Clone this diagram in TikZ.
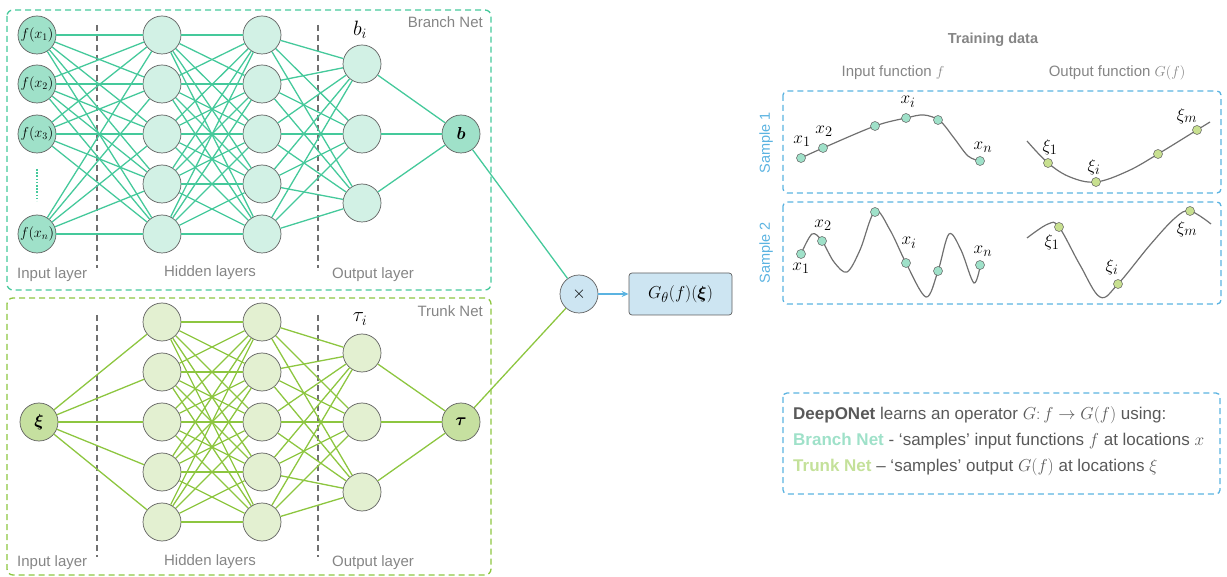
\documentclass[tikz,border=0pt]{standalone}
\usepackage{fontspec}
\setmainfont{Liberation Sans}
\usepackage{bm}
\usetikzlibrary{arrows.meta}

\definecolor{brline}{HTML}{45C99B}
\definecolor{brin}{HTML}{9FE1C9}
\definecolor{brhid}{HTML}{D2F1E5}
\definecolor{trline}{HTML}{8DC640}
\definecolor{trin}{HTML}{C6E0A0}
\definecolor{trhid}{HTML}{E3F0D1}
\definecolor{nodeedge}{HTML}{5F5F5F}
\definecolor{labgray}{HTML}{858585}
\definecolor{textgray}{HTML}{595959}
\definecolor{skyb}{HTML}{5BB3E1}
\definecolor{opfill}{HTML}{CDE5F2}
\definecolor{curvegray}{HTML}{707070}
\definecolor{brtext}{HTML}{9FE1C9}
\definecolor{trtext}{HTML}{C4E19A}
\definecolor{odot}{HTML}{C8E090}

\begin{document}
\begin{tikzpicture}[x=1pt,y=-1pt,
  neuron/.style={circle, draw=nodeedge, line width=0.7pt, minimum size=38pt, inner sep=0pt},
  brinput/.style={neuron, fill=brin},
  brhidden/.style={neuron, fill=brhid},
  trinput/.style={neuron, fill=trin},
  trhidden/.style={neuron, fill=trhid},
  brl/.style={draw=brline, line width=1.3pt},
  trl/.style={draw=trline, line width=1.3pt},
  netbox/.style={dashed, dash pattern=on 6pt off 4pt, line width=1.3pt, rounded corners=6pt},
  layersep/.style={draw=curvegray, line width=1.2pt, dash pattern=on 6pt off 4pt},
  laytext/.style={text=labgray, font=\fontsize{15}{18}\selectfont, inner sep=0pt},
  bigmath/.style={font=\fontsize{20}{22}\selectfont, inner sep=0pt},
  ptlabel/.style={font=\fontsize{19}{21}\selectfont, inner sep=0pt},
  curve/.style={draw=curvegray, line width=1.2pt},
  idot/.style={circle, draw=nodeedge, line width=0.5pt, fill=brin, minimum size=9pt, inner sep=0pt},
  odotst/.style={circle, draw=nodeedge, line width=0.5pt, fill=odot, minimum size=9pt, inner sep=0pt},
  samplebox/.style={draw=skyb, line width=1.3pt, dash pattern=on 6pt off 4pt, rounded corners=4pt},
]
\useasboundingbox (0,0) rectangle (1227,577);

% ---------------- Branch net ----------------
\draw[netbox, draw=brline] (7,10) rectangle (491,290);
\draw[layersep] (97,25) -- (97,268);
\draw[layersep] (318,25) -- (318,268);

\node[brinput, font=\fontsize{14}{16}\selectfont] (bi1) at (37,35) {$f(x_1)$};
\node[brinput, font=\fontsize{14}{16}\selectfont] (bi2) at (37,84) {$f(x_2)$};
\node[brinput, font=\fontsize{14}{16}\selectfont] (bi3) at (37,134) {$f(x_3)$};
\node[brinput, font=\fontsize{14}{16}\selectfont] (bi5) at (37,234) {$f(x_n)$};
\coordinate (dtop) at (37,169);
\coordinate (dbot) at (37,201);
\draw[draw=brline, line width=2.2pt, dash pattern=on 1.6pt off 1.6pt] (dtop) -- (dbot);

\foreach \j/\y in {1/35,2/84,3/134,4/184,5/234}{
  \node[brhidden] (bh\j) at (162,\y) {};
  \node[brhidden] (bk\j) at (262,\y) {};
}
\node[brhidden] (bo1) at (362,64) {};
\node[brhidden] (bo2) at (362,134) {};
\node[brhidden] (bo3) at (362,203) {};
\node[brinput, font=\fontsize{19}{21}\selectfont] (b) at (461,134) {$\bm{b}$};

\foreach \i in {1,2,3,5}{\foreach \j in {1,...,5}{\draw[brl] (bi\i) -- (bh\j);}}
\foreach \i in {1,...,5}{\foreach \j in {1,...,5}{\draw[brl] (bh\i) -- (bk\j);}}
\foreach \i in {1,...,5}{\foreach \j in {1,2,3}{\draw[brl] (bk\i) -- (bo\j);}}
\foreach \j in {1,2,3}{\draw[brl] (bo\j) -- (b);}

\node[bigmath] (bil) at (360,30) {$b_i$};
\node[laytext, anchor=west] (bin) at (17,275) {Input layer};
\node[laytext] (bhl) at (210,273) {Hidden layers};
\node[laytext] (bol) at (373,275) {Output layer};
\node[laytext, anchor=east] (bname) at (483,22) {Branch Net};

% ---------------- Trunk net ----------------
\draw[netbox, draw=trline] (7,298) rectangle (491,575);
\draw[layersep] (97,315) -- (97,557);
\draw[layersep] (318,315) -- (318,557);

\node[trinput, font=\fontsize{19}{21}\selectfont] (xi) at (39,422) {$\bm{\xi}$};
\foreach \j/\y in {1/322,2/372,3/422,4/472,5/522}{
  \node[trhidden] (th\j) at (162,\y) {};
  \node[trhidden] (tk\j) at (262,\y) {};
}
\node[trhidden] (to1) at (362,353) {};
\node[trhidden] (to2) at (362,422) {};
\node[trhidden] (to3) at (362,492) {};
\node[trinput, font=\fontsize{19}{21}\selectfont] (tau) at (461,422) {$\bm{\tau}$};

\foreach \j in {1,...,5}{\draw[trl] (xi) -- (th\j);}
\foreach \i in {1,...,5}{\foreach \j in {1,...,5}{\draw[trl] (th\i) -- (tk\j);}}
\foreach \i in {1,...,5}{\foreach \j in {1,2,3}{\draw[trl] (tk\i) -- (to\j);}}
\foreach \j in {1,2,3}{\draw[trl] (to\j) -- (tau);}

\node[bigmath] (til) at (360,319) {$\tau_i$};
\node[laytext, anchor=west] (tin) at (17,563) {Input layer};
\node[laytext] (thl) at (210,562) {Hidden layers};
\node[laytext] (tol) at (373,563) {Output layer};
\node[laytext, anchor=east] (tname) at (483,311) {Trunk Net};

% ---------------- Combination ----------------
\node[neuron, fill=opfill, font=\fontsize{18}{20}\selectfont] (mult) at (579,294) {$\times$};
\node[draw=nodeedge, line width=0.7pt, fill=opfill, rounded corners=3pt,
      minimum width=103pt, minimum height=42pt, inner sep=0pt,
      font=\fontsize{19}{21}\selectfont] (gout) at (680.5,294) {$G_\theta(f)(\bm{\xi})$};
\draw[brl] (b) -- (mult);
\draw[trl] (tau) -- (mult);
\draw[draw=skyb, line width=1.2pt, -{Stealth[length=7pt,width=6pt]}] (mult) -- (gout);

% ---------------- Training data ----------------
\node[text=labgray, font=\bfseries\fontsize{14.5}{17}\selectfont] (tdata) at (993,40) {Training data};
\node[text=labgray, font=\fontsize{15}{18}\selectfont] (infn) at (893,73) {Input function $f$};
\node[text=labgray, font=\fontsize{15}{18}\selectfont] (outfn) at (1117,73) {Output function $G(f)$};

\draw[samplebox] (783,91) rectangle (1221,193);
\draw[samplebox] (783,202) rectangle (1221,304);
\node[text=skyb, rotate=90, font=\fontsize{14.5}{17}\selectfont] (s1) at (766,143) {Sample 1};
\node[text=skyb, rotate=90, font=\fontsize{14.5}{17}\selectfont] (s2) at (766,253) {Sample 2};

% sample 1, input function
\draw[curve] plot[smooth, tension=0.55] coordinates {(801,158) (823,148) (875,126) (906,118) (924,115) (940,121) (954,138) (968,156) (980,161)};
\node[idot] (a1) at (801,158) {};
\node[idot] (a2) at (823,148) {};
\node[idot] (a3) at (875,126) {};
\node[idot] (a4) at (906,118) {};
\node[idot] (a5) at (938,120) {};
\node[idot] (a6) at (980,161) {};
\node[ptlabel] (a1l) at (802,141) {$x_1$};
\node[ptlabel] (a2l) at (824,131) {$x_2$};
\node[ptlabel] (a4l) at (908,102) {$x_i$};
\node[ptlabel] (a6l) at (983,147) {$x_n$};

% sample 1, output function
\draw[curve] plot[smooth, tension=0.6] coordinates {(1027,141) (1048,163) (1070,177) (1096,182) (1128,171) (1158,154) (1197,130) (1210,122)};
\node[odotst] (c1) at (1048,163) {};
\node[odotst] (c2) at (1096,182) {};
\node[odotst] (c3) at (1158,154) {};
\node[odotst] (c4) at (1197,130) {};
\node[ptlabel] (c1l) at (1050,147) {$\xi_1$};
\node[ptlabel] (c2l) at (1094,167) {$\xi_i$};
\node[ptlabel] (c4l) at (1187,116) {$\xi_m$};

% sample 2, input function
\draw[curve] plot[smooth, tension=0.55] coordinates {(801,254) (812,234) (822,241) (834,262) (847,272) (860,250) (875,211) (890,230) (906,263) (926,297) (938,271) (949,234) (961,250) (974,283) (981,262)};
\node[idot] (d1) at (801,254) {};
\node[idot] (d2) at (822,241) {};
\node[idot] (d3) at (875,212) {};
\node[idot] (d4) at (906,263) {};
\node[idot] (d5) at (938,271) {};
\node[idot] (d6) at (980,265) {};
\node[ptlabel] (d1l) at (801,268) {$x_1$};
\node[ptlabel] (d2l) at (823,225) {$x_2$};
\node[ptlabel] (d4l) at (909,243) {$x_i$};
\node[ptlabel] (d6l) at (983,251) {$x_n$};

% sample 2, output function
\draw[curve] plot[smooth, tension=0.6] coordinates {(1027,238) (1048,224) (1059,227) (1080,265) (1100,297) (1118,284) (1150,245) (1175,218) (1190,211) (1211,224)};
\node[odotst] (e1) at (1059,227) {};
\node[odotst] (e2) at (1118,284) {};
\node[odotst] (e3) at (1190,211) {};
\node[ptlabel] (e1l) at (1052,242) {$\xi_1$};
\node[ptlabel] (e2l) at (1112,267) {$\xi_i$};
\node[ptlabel] (e3l) at (1187,229) {$\xi_m$};

% ---------------- Summary ----------------
\draw[samplebox] (783,393) rectangle (1220,494);
\node[anchor=west, inner sep=0pt, text=textgray, font=\fontsize{17}{19}\selectfont] (sum1) at (793,415)
  {\textbf{DeepONet} learns an operator $G\colon f\to G(f)$ using:};
\node[anchor=west, inner sep=0pt, text=textgray, font=\fontsize{17}{19}\selectfont] (sum2) at (793,441)
  {\textcolor{brtext}{\textbf{Branch Net}} - ‘samples’ input functions $f$ at locations $x$};
\node[anchor=west, inner sep=0pt, text=textgray, font=\fontsize{17}{19}\selectfont] (sum3) at (793,467)
  {\textcolor{trtext}{\textbf{Trunk Net}} – ‘samples’ output $G(f)$ at locations $\xi$};
\end{tikzpicture}
\end{document}
